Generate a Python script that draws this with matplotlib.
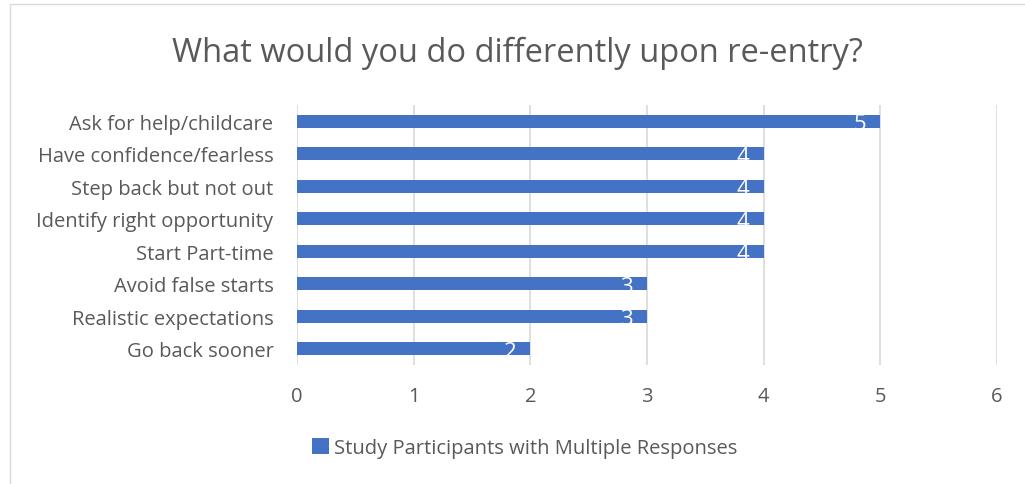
import matplotlib.pyplot as plt
from matplotlib.patches import Rectangle

categories = ['Ask for help/childcare', 'Have confidence/fearless', 'Step back but not out',
              'Identify right opportunity', 'Start Part-time', 'Avoid false starts',
              'Realistic expectations', 'Go back sooner']
values = [5, 4, 4, 4, 4, 3, 3, 2]
series_name = 'Study Participants with Multiple Responses'

bar_color = '#4472C4'
text_color = '#595959'
plt.rcParams['font.family'] = ['Open Sans', 'DejaVu Sans']

fig = plt.figure(figsize=(10.25, 4.85), dpi=100)
ax = fig.add_axes([297 / 1025, 1 - 366 / 485, 700 / 1025, 260 / 485])

# border of the chart area
fig.patches.append(Rectangle((10 / 1025, -0.01), 1.0, 1 - 5 / 485 + 0.01,
                             transform=fig.transFigure, fill=False,
                             edgecolor='#D9D9D9', linewidth=1))

ypos = list(range(len(categories)))[::-1]
bars = ax.barh(ypos, values, height=0.39, color=bar_color, label=series_name, zorder=3)
for y, v in zip(ypos, values):
    ax.text(v - 0.12, y - 0.08, str(v), ha='right', va='center', color='white', fontsize=16, zorder=4)

ax.set_xlim(0, 6)
ax.set_ylim(-0.5, len(categories) - 0.5)
ax.set_yticks(ypos)
ax.set_yticklabels(categories, fontsize=14.5, color=text_color)
ax.set_xticks(range(7))
ax.tick_params(axis='x', labelsize=14.5, labelcolor=text_color, length=0, pad=15)
ax.tick_params(axis='y', length=0, pad=17)
ax.grid(axis='x', color='#D9D9D9', linewidth=1.2, zorder=0)
for s in ax.spines.values():
    s.set_visible(False)

fig.text(0.505, 1 - 53 / 485, 'What would you do differently upon re-entry?', ha='center',
         va='center', fontsize=23.5, color=text_color)

fig.legend(handles=[bars], labels=[series_name], loc='center', bbox_to_anchor=(0.512, 1 - 449 / 485),
           frameon=False, fontsize=14.5, labelcolor=text_color, handlelength=0.85, handleheight=0.85,
           handletextpad=0.25)

fig.savefig('out.png', dpi=100)
